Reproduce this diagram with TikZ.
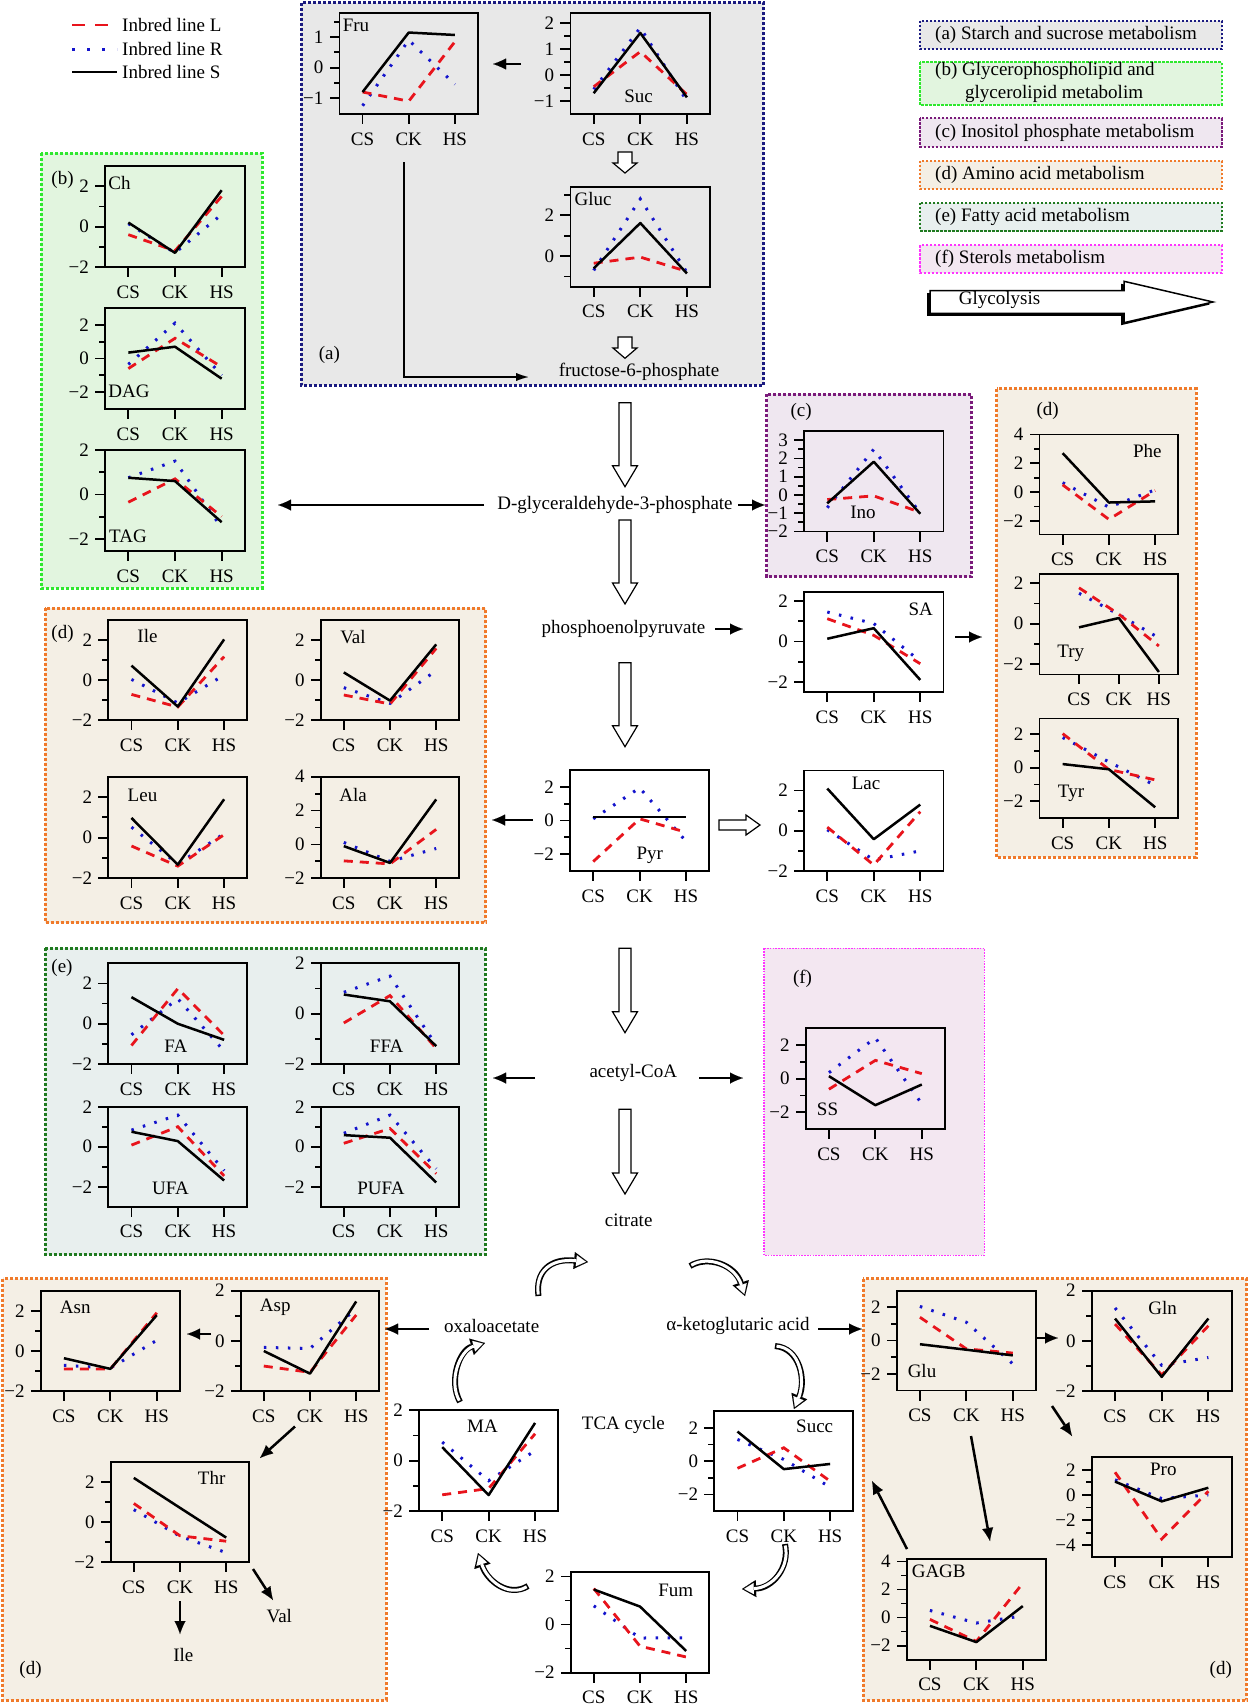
\documentclass[tikz,border=0pt]{standalone}
\usepackage{fontspec}
\setmainfont{Liberation Serif}
\usetikzlibrary{arrows.meta}
\definecolor{cL}{HTML}{E8141C}
\definecolor{cR}{HTML}{1414CC}
\definecolor{bA}{HTML}{1A1A80}
\definecolor{fA}{HTML}{E8E8E8}
\definecolor{bB}{HTML}{2EE82E}
\definecolor{fB}{HTML}{E2F5DF}
\definecolor{bC}{HTML}{7A1A7A}
\definecolor{fC}{HTML}{EFE7F0}
\definecolor{bD}{HTML}{F07A2A}
\definecolor{fD}{HTML}{F4EFE5}
\definecolor{bE}{HTML}{1F7A1F}
\definecolor{fE}{HTML}{E8EFEE}
\definecolor{bF}{HTML}{FF33FF}
\definecolor{fF}{HTML}{F3E7F1}
\tikzset{
  every node/.style={font=\fontsize{19}{22}\selectfont, inner sep=0pt},
  panel/.style={line width=3pt, dash pattern=on 3pt off 2pt},
  lbox/.style={line width=2pt, dash pattern=on 2.5pt off 1.5pt},
  pframe/.style={draw, line width=1.8pt, inner sep=0pt, outer sep=0pt},
  axl/.style={line width=1.8pt},
  lS/.style={line width=2.5pt, black, line join=round},
  lL/.style={line width=2.8pt, cL, dash pattern=on 9pt off 7pt},
  lR/.style={line width=3pt, cR, dash pattern=on 2.5pt off 9.5pt},
  arr/.style={line width=2.5pt, -{Latex[length=13pt,width=11pt,line width=0.01pt]}},
  harr/.style={draw, line width=1.2pt, fill=white, line join=miter},
}
\newcommand{\XA}{1}\newcommand{\XB}{2}\newcommand{\XC}{3}
\newcommand{\PB}[9]{%
  \pgfmathsetmacro\PBw{#3-#1}%
  \pgfmathsetmacro\PBh{#4-#2}%
  \pgfmathsetmacro\PBu{\PBw/3}%
  \pgfmathsetmacro\PBs{\PBh/((#6)-(#5))}%
  \pgfmathsetmacro\PBx{#1-\PBw/6}%
  \pgfmathsetmacro\PBy{#4+(#5)*\PBs}%
  \pgfmathsetmacro\PBm{((#5)+(#6))/2}%
  \begin{scope}[shift={(\PBx pt,-\PBy pt)},x={(\PBu pt,0pt)},y={(0pt,\PBs pt)}]
  \node[pframe, minimum width=\PBw pt, minimum height=\PBh pt] (#9) at (2,\PBm) {};
  \foreach \PBv in {#7} {%
    \draw[axl] (0.5,\PBv) -- ++(-10pt,0pt);
    \pgfmathtruncatemacro\PBa{abs(\PBv)}%
    \path (0.5,\PBv) ++(-16pt,0pt) node[anchor=east] {\ifnum\PBv<0 −\fi\PBa};}
  \foreach \PBv in {#8} {\draw[axl] (0.5,\PBv) -- ++(-6pt,0pt);}
  \foreach \PBi/\PBt in {\XA/CS,\XB/CK,\XC/HS} {%
    \draw[axl] (\PBi,#5) -- ++(0pt,-10pt);
    \path (\PBi,#5) ++(0pt,-25pt) node {\PBt};}
}
\newcommand{\PE}{\end{scope}}
\newcommand{\Dat}[9]{%
  \draw[lR] (\XA,#4) -- (\XB,#5) -- (\XC,#6);
  \draw[lL] (\XA,#1) -- (\XB,#2) -- (\XC,#3);
  \draw[lS] (\XA,#7) -- (\XB,#8) -- (\XC,#9);}
\newcommand{\VA}[6]{%
  \draw[harr] (#1-#5,#2) -- (#1+#5,#2) -- (#1+#5,#3) -- (#1+#6,#3) -- (#1,#4) -- (#1-#6,#3) -- (#1-#5,#3) -- cycle;}
\newcommand{\CA}[4]{%
  \draw[line width=6pt, -{Triangle[length=14pt,width=17pt,line width=0.01pt]}] (#1) .. controls (#2) and (#3) .. (#4);
  \draw[line width=3pt, white, shorten <=1.5pt, shorten >=2.2pt, -{Triangle[length=9.5pt,width=11pt,line width=0.01pt]}] (#1) .. controls (#2) and (#3) .. (#4);}
\begin{document}
\begin{tikzpicture}[x=1pt,y=-1pt]
\fill[white] (0,0) rectangle (1248,1705);
\useasboundingbox (0,0) rectangle (1248,1705);
% ---------- panels
\draw[panel, draw=bA, fill=fA] (301.4,2.7) rectangle (763.9,385);
\draw[panel, draw=bB, fill=fB] (41,153.3) rectangle (262,588.3);
\draw[panel, draw=bC, fill=fC] (766.5,394) rectangle (971,576.6);
\draw[panel, draw=bD, fill=fD] (996.8,388.5) rectangle (1196,857);
\draw[panel, draw=bD, fill=fD] (45,608.3) rectangle (485.7,922.7);
\draw[panel, draw=bE, fill=fE] (45,948.3) rectangle (485,1254.6);
\draw[panel, draw=bF, fill=fF, line width=1.6pt, dash pattern=on 1.6pt off 1.2pt] (764,948.3) rectangle (984.3,1255.3);
\draw[panel, draw=bD, fill=fD] (2.7,1278.7) rectangle (386,1700.4);
\draw[panel, draw=bD, fill=fD] (863.3,1278.7) rectangle (1246.7,1700.4);
% ---------- legend (lines)
\draw[lL, dash pattern=on 13pt off 10pt] (72,25) -- (108,25);
\draw[lR, dash pattern=on 2.5pt off 12.5pt] (72,49) -- (117,49);
\draw[lS] (72,72) -- (117,72);
\node[anchor=west] (legL) at (122,25) {Inbred line L};
\node[anchor=west] (legR) at (122,49) {Inbred line R};
\node[anchor=west] (legS) at (122,72) {Inbred line S};
% ---------- legend (boxes)
\draw[lbox, draw=bA, fill=fA] (920,20.7) rectangle (1221.7,49);
\node[anchor=west] (kA) at (935,35) {(a) Starch and sucrose metabolism};
\draw[lbox, draw=bB, fill=fB] (920,62.3) rectangle (1221.7,105);
\node[anchor=west] (kB1) at (935,70.7) {(b) Glycerophospholipid and};
\node[anchor=west] (kB2) at (965,94.3) {glycerolipid metabolim};
\draw[lbox, draw=bC, fill=fC] (920,118.3) rectangle (1221.7,146.7);
\node[anchor=west] (kC) at (935,133) {(c) Inositol phosphate metabolism};
\draw[lbox, draw=bD, fill=fD] (920,160.7) rectangle (1221.7,189);
\node[anchor=west] (kD) at (935,175) {(d) Amino acid metabolism};
\draw[lbox, draw=bE, fill=fE] (920,202.7) rectangle (1221.7,230.7);
\node[anchor=west] (kE) at (935,216.7) {(e) Fatty acid metabolism};
\draw[lbox, draw=bF, fill=fF] (920,245) rectangle (1221.7,273.3);
\node[anchor=west] (kF) at (935,259) {(f) Sterols metabolism};
% glycolysis arrow
\fill[black, shift={(-3pt,-2.5pt)}] (930,290.7) -- (1124,290.7) -- (1124,281.3) -- (1213,302) -- (1124,322.7) -- (1124,313.3) -- (930,313.3) -- cycle;
\draw[fill=white, line width=1.5pt] (930,290.7) -- (1124,290.7) -- (1124,281.3) -- (1213,302) -- (1124,322.7) -- (1124,313.3) -- (930,313.3) -- cycle;
\node[anchor=west] (gly) at (958.7,300) {Glycolysis};
% ---------- panel labels
\node (pa) at (329.4,355) {(a)};
\node (pb) at (62.5,180) {(b)};
\node (pc) at (801.2,412.2) {(c)};
\node (pd1) at (1047.7,411.1) {(d)};
\node (pd2) at (62.5,634) {(d)};
\node (pe) at (62,968.3) {(e)};
\node (pf) at (802.5,979.3) {(f)};
\node (pd3) at (30.5,1669.7) {(d)};
\node (pd4) at (1220.8,1669.7) {(d)};
% ---------- plots (b)
\PB{105}{166}{245}{267}{-2}{3}{-2,0,2}{-1,1}{ch}
\Dat{-0.4}{-1.2}{1.5}{0.15}{-1.3}{0.6}{0.2}{-1.3}{1.8}\PE
\node (tch) at (119.5,182.7) {Ch};
\PB{105}{308}{245}{409}{-3}{3}{-2,0,2}{-1,1}{dag}
\Dat{-0.6}{1.2}{-0.5}{-0.35}{2.1}{-1.0}{0.35}{0.7}{-1.2}\PE
\node (tdag) at (129,391.7) {DAG};
\PB{105}{450}{245}{551}{-2.55}{2}{-2,0,2}{-1,1}{tag}
\Dat{-0.35}{0.7}{-1.0}{0.75}{1.5}{-1.5}{0.75}{0.6}{-1.25}\PE
\node (ttag) at (128,536.7) {TAG};
% ---------- plots (a)
\PB{339.5}{12.7}{478}{114}{-1.52}{1.8}{-1,0,1}{-0.5,0.5,1.5}{fru}
\Dat{-0.8}{-1.1}{0.85}{-1.25}{0.9}{-0.55}{-0.8}{1.15}{1.07}\PE
\node (tfru) at (356,25) {Fru};
\PB{570.4}{12.7}{710.2}{114}{-1.5}{2.4}{-1,0,1,2}{-0.5,0.5,1.5}{suc}
\Dat{-0.45}{0.9}{-0.75}{-0.55}{1.82}{-1.0}{-0.7}{1.62}{-0.86}\PE
\node (tsuc) at (638.6,96.7) {Suc};
\PB{570.4}{186.7}{710.2}{286.7}{-1.5}{3.4}{0,2}{-1,1,3}{gluc}
\Dat{-0.35}{-0.05}{-0.75}{-0.7}{2.8}{-0.8}{-0.6}{1.62}{-0.85}\PE
\node (tgluc) at (593,199.3) {Gluc};
% ---------- (c)
\PB{804}{431}{943.5}{531.5}{-2}{3.5}{-2,-1,0,1,2,3}{-1.5,-0.5,0.5,1.5,2.5}{ino}
\Dat{-0.25}{-0.05}{-0.95}{-0.7}{2.5}{-1.0}{-0.46}{1.82}{-1.03}\PE
\node (tino) at (863,512.7) {Ino};
% ---------- (d) right
\PB{1039.5}{434.4}{1178.3}{534.5}{-2.95}{4}{-2,0,2,4}{-1,1,3}{phe}
\Dat{0.5}{-1.9}{0.1}{0.65}{-1.05}{0.15}{2.7}{-0.73}{-0.65}\PE
\node (tphe) at (1147.3,450.6) {Phe};
\renewcommand{\XA}{1.354}\renewcommand{\XB}{2.214}\renewcommand{\XC}{3.08}
\PB{1039.5}{574}{1178.3}{674.4}{-2.5}{2.45}{-2,0,2}{-1,1}{try}
\Dat{1.77}{0.47}{-1.1}{1.5}{0.45}{-0.7}{-0.18}{0.28}{-2.38}\PE
\renewcommand{\XA}{1}\renewcommand{\XB}{2}\renewcommand{\XC}{3}
\node (ttry) at (1070.7,653) {Try};
\PB{1039.5}{718.5}{1178.3}{818.2}{-3}{2.93}{-2,0,2}{-1,1}{tyr}
\Dat{2.03}{-0.1}{-0.72}{1.8}{0.35}{-1.05}{0.22}{-0.09}{-2.35}\PE
\node (ttyr) at (1071,793.7) {Tyr};
% ---------- middle
\PB{804}{591.7}{943.5}{692.1}{-2.5}{2.45}{-2,0,2}{-1,1}{sa}
\Dat{1.12}{0.3}{-1.1}{1.45}{0.88}{-0.98}{0.13}{0.65}{-1.9}\PE
\node (tsa) at (920.8,609.4) {SA};
\PB{804}{770.4}{943.5}{871}{-2}{3}{-2,0,2}{-1,1}{lac}
\Dat{0.18}{-1.7}{0.95}{0.05}{-1.45}{-1.0}{2.1}{-0.42}{1.3}\PE
\node (tlac) at (866,783.5) {Lac};
\PB{570}{770}{709.3}{871}{-3}{3}{-2,0,2}{-1,1}{pyr}
\Dat{-2.44}{0.1}{-0.7}{0.1}{1.94}{-1.24}{0.22}{0.22}{0.22}\PE
\node (tpyr) at (649.7,855) {Pyr};
% ---------- (d) left
\PB{108.3}{620}{247.3}{720}{-2}{3}{-2,0,2}{-1,1}{ile}
\Dat{-0.72}{-1.35}{1.17}{0.03}{-1.15}{0.25}{0.72}{-1.33}{2.03}\PE
\node (tile) at (147.5,636) {Ile};
\PB{320.7}{620}{459.3}{720}{-2}{3}{-2,0,2}{-1,1}{val}
\Dat{-0.75}{-1.2}{1.58}{-0.38}{-1.17}{0.47}{0.38}{-1.03}{1.78}\PE
\node (tval) at (353,636.7) {Val};
\PB{108.3}{776.7}{247.3}{878.3}{-2}{3}{-2,0,2}{-1,1}{leu}
\Dat{-0.41}{-1.4}{0.15}{0.52}{-1.3}{0.2}{0.97}{-1.33}{1.89}\PE
\node (tleu) at (142.5,795) {Leu};
\PB{320.7}{776.7}{459.3}{878.3}{-2}{4}{-2,0,2,4}{-1,1,3}{ala}
\Dat{-0.97}{-1.15}{0.89}{0.12}{-1.0}{-0.24}{-0.1}{-1.09}{2.66}\PE
\node (tala) at (353,795) {Ala};
% ---------- (e)
\PB{108.3}{963.3}{247.3}{1064}{-2}{3}{-2,0,2}{-1,1}{fa}
\Dat{-1.08}{1.74}{-0.58}{-0.55}{1.24}{-1.36}{1.32}{0}{-0.8}\PE
\node (tfa) at (175.8,1046) {FA};
\PB{320.7}{963.3}{459.3}{1064}{-2}{2}{-2,0,2}{-1,1}{ffa}
\Dat{-0.37}{0.72}{-1.38}{0.85}{1.49}{-1.25}{0.76}{0.49}{-1.29}\PE
\node (tffa) at (386.7,1046) {FFA};
\PB{108.3}{1106.7}{247.3}{1206.7}{-3}{2}{-2,0,2}{-1,1}{ufa}
\Dat{0.08}{1.0}{-1.46}{0.83}{1.58}{-1.2}{0.75}{0.28}{-1.69}\PE
\node (tufa) at (170.5,1188.6) {UFA};
\PB{320.7}{1106.7}{459.3}{1206.7}{-3}{2}{-2,0,2}{-1,1}{pufa}
\Dat{0.17}{0.91}{-1.35}{0.67}{1.58}{-1.1}{0.58}{0.45}{-1.79}\PE
\node (tpufa) at (381,1188.6) {PUFA};
% ---------- (f)
\PB{805.7}{1028.3}{945}{1129}{-3}{3}{-2,0,2}{-1,1}{ss}
\Dat{-0.63}{1.09}{0.3}{0.36}{2.43}{-1.5}{0.15}{-1.58}{-0.35}\PE
\node (tss) at (827.5,1109.3) {SS};
% ---------- (d) bottom left
\PB{40.7}{1290.6}{180}{1391.2}{-2}{3}{-2,0,2}{-1,1}{asn}
\Dat{-0.9}{-0.9}{1.9}{-0.71}{-0.85}{0.53}{-0.36}{-0.89}{1.78}\PE
\node (tasn) at (75.3,1307.6) {Asn};
\PB{240.7}{1290.6}{379.3}{1391.2}{-2}{2}{-2,0,2}{-1,1}{asp}
\Dat{-1.0}{-1.25}{1.03}{-0.26}{-0.3}{1.28}{-0.4}{-1.3}{1.57}\PE
\node (tasp) at (275.3,1307.6) {Asp};
\PB{110.7}{1461.8}{249.3}{1562.3}{-2}{3}{-2,0,2}{-1,1}{thr}
\Dat{0.93}{-0.68}{-0.95}{0.62}{-0.7}{-1.52}{2.2}{0.71}{-0.77}\PE
\node (tthr) at (211.7,1477.7) {Thr};
% ---------- TCA
\PB{419}{1410.3}{558.3}{1511.2}{-2}{2}{-2,0,2}{-1,1}{ma}
\Dat{-1.35}{-1.1}{1.07}{0.74}{-0.79}{0.4}{0.54}{-1.36}{1.5}\PE
\node (tma) at (482.5,1425.8) {MA};
\PB{570.7}{1571.7}{709.3}{1672.6}{-2}{2.2}{-2,0,2}{-1,1}{fum}
\Dat{1.5}{-0.9}{-1.35}{0.78}{-0.56}{-0.55}{1.46}{0.75}{-1.1}\PE
\node (tfum) at (675.8,1590.5) {Fum};
\PB{714.3}{1411}{853.3}{1511.2}{-3}{3}{-2,0,2}{-1,1}{succ}
\Dat{-0.43}{0.8}{-1.2}{1.3}{0.1}{-1.56}{1.77}{-0.48}{-0.17}\PE
\node (tsucc) at (814.7,1425.8) {Succ};
% ---------- (d) bottom right
\PB{896.7}{1290.6}{1036}{1390.5}{-3}{3}{-2,0,2}{-1,1}{glu}
\Dat{1.4}{-0.5}{-0.75}{2.05}{1.1}{-1.4}{-0.22}{-0.55}{-0.89}\PE
\node (tglu) at (922,1370.6) {Glu};
\PB{1091.7}{1290.6}{1231.7}{1391.2}{-2}{2}{-2,0,2}{-1,1}{gln}
\Dat{0.67}{-1.35}{0.6}{1.31}{-0.97}{-0.66}{0.89}{-1.43}{0.89}\PE
\node (tgln) at (1162.7,1307.6) {Gln};
\PB{1091.7}{1457.1}{1231.7}{1557.3}{-4.95}{3}{-4,-2,0,2}{-3,-1,1}{pro}
\Dat{1.8}{-3.5}{0.3}{1.2}{-0.29}{0.0}{1.06}{-0.51}{0.57}\PE
\node (tpro) at (1163.3,1469.7) {Pro};
\PB{906.7}{1558.7}{1046}{1659.6}{-3}{4.2}{-2,0,2,4}{-1,1,3}{gagb}
\Dat{-0.13}{-1.7}{2.45}{0.51}{-0.39}{0.13}{-0.59}{-1.75}{0.82}\PE
\node (tgagb) at (938.7,1571.7) {GAGB};
% ---------- pathway texts
\node (fru6p) at (639,372) {fructose-6-phosphate};
\node (dg) at (615,505) {D-glyceraldehyde-3-phosphate};
\node (pep) at (623.5,629) {phosphoenolpyruvate};
\node (acoa) at (633.3,1072.7) {acetyl-CoA};
\node (cit) at (628.7,1220) {citrate};
\node (oxa) at (491.7,1326.3) {oxaloacetate};
\node (akg) at (738,1326.3) {α-ketoglutaric acid};
\node (tca) at (623.3,1425.4) {TCA cycle};
\node (ileT) at (183.3,1654.6) {Ile};
\node (valT) at (279.3,1616.4) {Val};
% ---------- hollow block arrows
\VA{625}{152}{163}{173}{7}{12}
\VA{625}{337}{348}{358.3}{7}{12}
\VA{625}{402.7}{465.7}{486.7}{6}{12.5}
\VA{625}{520}{583}{604}{6}{12.5}
\VA{625}{662.7}{725.7}{746.7}{6}{12.5}
\VA{625}{948.3}{1011.7}{1032.7}{6}{12.5}
\VA{625}{1109.3}{1173}{1194}{6}{12.5}
\draw[harr] (719,820) -- (746,820) -- (746,815) -- (760,825) -- (746,835) -- (746,830) -- (719,830) -- cycle;
% ---------- straight arrows
\coordinate (a1s) at (521,64);   \coordinate (a1e) at (493,64);
\coordinate (a2s) at (484,505);  \coordinate (a2e) at (278,505);
\coordinate (a3s) at (738,505);  \coordinate (a3e) at (765,505);
\coordinate (a4s) at (715,629);  \coordinate (a4e) at (743,629);
\coordinate (a5s) at (955,637);  \coordinate (a5e) at (982,637);
\coordinate (a6s) at (533,820);  \coordinate (a6e) at (492,820);
\coordinate (a7s) at (535,1078); \coordinate (a7e) at (493,1078);
\coordinate (a8s) at (699,1078); \coordinate (a8e) at (743,1078);
\coordinate (a9s) at (429,1329); \coordinate (a9e) at (385,1329);
\coordinate (b1s) at (211,1334); \coordinate (b1e) at (187,1334);
\coordinate (b2s) at (295,1426.5); \coordinate (b2e) at (260,1458);
\coordinate (b3s) at (180,1601); \coordinate (b3e) at (180,1634);
\coordinate (b4s) at (253,1569); \coordinate (b4e) at (273,1600);
\coordinate (b5s) at (818,1329); \coordinate (b5e) at (862,1329);
\coordinate (b6s) at (1036,1338); \coordinate (b6e) at (1058,1338);
\coordinate (b7s) at (1052,1406); \coordinate (b7e) at (1072,1436);
\coordinate (b8s) at (971,1436); \coordinate (b8e) at (990,1541);
\coordinate (b9s) at (907,1549); \coordinate (b9e) at (872,1481);
\foreach \s/\e in {a1s/a1e,a2s/a2e,a3s/a3e,a4s/a4e,a5s/a5e,a6s/a6e,a7s/a7e,a8s/a8e,a9s/a9e,b1s/b1e,b2s/b2e,b3s/b3e,b4s/b4e,b5s/b5e,b6s/b6e,b7s/b7e,b8s/b8e,b9s/b9e}
  \draw[arr] (\s) -- (\e);
\coordinate (fl1) at (404,162); \coordinate (fl2) at (528,377);
\draw[line width=2pt, -{Latex[length=12pt,width=8pt,line width=0.01pt]}] (fl1) |- (fl2);
% ---------- curved hollow arrows (TCA)
\coordinate (c1s) at (538.5,1296); \coordinate (c1e) at (588,1262);
\coordinate (c2s) at (690,1266);   \coordinate (c2e) at (745,1296);
\coordinate (c3s) at (775,1346);   \coordinate (c3e) at (794,1409);
\coordinate (c4s) at (785,1544);   \coordinate (c4e) at (742,1589);
\coordinate (c5s) at (528,1586);   \coordinate (c5e) at (478,1553);
\coordinate (c6s) at (460,1402);   \coordinate (c6e) at (485,1343);
\CA{c1s}{535,1272}{550,1258}{c1e}
\CA{c2s}{708,1255}{735,1265}{c2e}
\CA{c3s}{800,1348}{806,1380}{c3e}
\CA{c4s}{790,1568}{772,1588}{c4e}
\CA{c5s}{508,1598}{487,1580}{c5e}
\CA{c6s}{448,1380}{460,1350}{c6e}
\end{tikzpicture}
\end{document}
